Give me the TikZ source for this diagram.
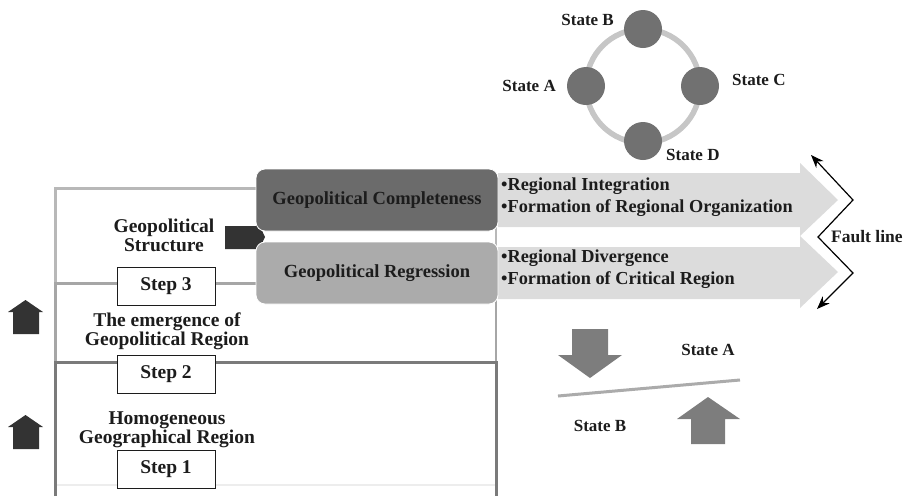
\documentclass[tikz,border=0pt]{standalone}
\usepackage{fontspec}
\setmainfont{Liberation Serif}
\usetikzlibrary{positioning,arrows.meta}
\tikzset{>=Stealth}

\definecolor{ink}{HTML}{1C1C1C}
\definecolor{boxdark}{HTML}{6B6B6B}
\definecolor{boxlight}{HTML}{ABABAB}
\definecolor{bandgray}{HTML}{DCDCDC}
\definecolor{stategray}{HTML}{717171}
\definecolor{ringgray}{HTML}{C6C6C6}
\definecolor{framelight}{HTML}{B8B8B8}
\definecolor{framemid}{HTML}{A6A6A6}
\definecolor{framedark}{HTML}{7A7A7A}
\definecolor{blockdark}{HTML}{333333}
\definecolor{blockgray}{HTML}{7D7D7D}

\tikzset{
  lbl/.style = {text=ink, font=\bfseries\fontsize{19.5}{19}\selectfont, align=center},
  stepbox/.style = {draw=ink, fill=white, line width=0.8pt, minimum width=98pt,
    minimum height=38pt, inner sep=0pt, text=ink, font=\bfseries\fontsize{19.5}{19}\selectfont},
  phasebox/.style = {draw=white, line width=0.8pt, rounded corners=9pt, minimum width=242pt,
    minimum height=62pt, inner sep=0pt, text=ink, font=\bfseries\fontsize{18.5}{20}\selectfont},
  bullets/.style = {anchor=west, inner sep=0pt, align=left, text=ink,
    font=\bfseries\fontsize{18.3}{22}\selectfont},
  state/.style = {circle, fill=stategray, minimum size=38pt, inner sep=0pt},
  statelbl/.style = {inner sep=0pt, text=ink, font=\bfseries\fontsize{17}{17}\selectfont},
  fault/.style = {{Stealth[length=13pt,width=10pt]}-{Stealth[length=13pt,width=10pt]},
    line width=1.2pt}
}

\begin{document}
\begin{tikzpicture}[x=1pt, y=-1pt]
    \useasboundingbox (0,0) rectangle (905,496);

    % frames of the three steps
    \draw[framelight, line width=3pt] (496,188) -- (55,188) -- (55,283);
    \draw[framelight, line width=2pt] (496,188) -- (496,283);
    \draw[framemid, line width=3pt] (496,283) -- (55,283) -- (55,496);
    \draw[framemid, line width=2.5pt] (496,283) -- (496,362);
    \draw[black!7, line width=2pt] (55,485) -- (496,485);
    \draw[framedark, line width=3pt] (55,496) -- (55,362) -- (496,362) -- (496,496);

    % steps
    \node[stepbox] (st3) at (166,286) {Step 3};
    \node[stepbox] (st2) at (166,374) {Step 2};
    \node[stepbox] (st1) at (166,469) {Step 1};
    \node[lbl] (gs) at (164,235) {Geopolitical\\Structure};
    \node[lbl] (ge) at (167,331) {The emergence of\\Geopolitical Region};
    \node[lbl] (hg) at (167,430) {Homogeneous\\Geographical Region};

    % upward arrows
    \foreach \y in {300,415}
      \fill[blockdark] (8,\y+12) -- (25.5,\y) -- (43,\y+12) -- (39,\y+12)
        -- (39,\y+34) -- (13,\y+34) -- (13,\y+12) -- cycle;

    % arrow into the two outcomes
    \fill[blockdark] (225,226) -- (256,226) -- (256,218) -- (265,237) -- (256,256)
      -- (256,249) -- (225,249) -- cycle;

    % bands
    \fill[bandgray] (498,173) -- (800,173) -- (800,163) -- (838,200) -- (800,236)
      -- (800,227) -- (498,227) -- cycle;
    \fill[bandgray] (498,247) -- (800,247) -- (800,236) -- (838,272) -- (800,308)
      -- (800,299) -- (498,299) -- cycle;
    \node[bullets] (bi) at (501,197) {\textbullet Regional Integration\\
      \textbullet Formation of Regional Organization};
    \node[bullets] (bd) at (501,269) {\textbullet Regional Divergence\\
      \textbullet Formation of Critical Region};

    \node[phasebox, fill=boxdark] (gc) at (377,200) {Geopolitical Completeness};
    \node[phasebox, fill=boxlight] (gr) at (377,273) {Geopolitical Regression};

    % fault line
    \coordinate (f0) at (811,155);
    \coordinate (f1) at (853,200);
    \coordinate (f2) at (818,237);
    \coordinate (f3) at (853,273);
    \coordinate (f4) at (817,309);
    \draw[fault] (f0) -- (f1) -- (f2) -- (f3) -- (f4);
    \node[statelbl, anchor=west, font=\bfseries\fontsize{17.5}{17}\selectfont] (fl) at (831,237) {Fault line};

    % states on a ring
    \coordinate (ring) at (643,86);
    \draw[ringgray, line width=5.5pt] (ring) circle[radius=57pt];
    \node[state] (sb) at (643,29) {};
    \node[state] (sa) at (586,86) {};
    \node[state] (sc) at (700,86) {};
    \node[state] (sd) at (643,141) {};
    \node[statelbl, anchor=east] at (614,20) {State B};
    \node[statelbl, anchor=east] at (556,86) {State A};
    \node[statelbl, anchor=west] at (732,80) {State C};
    \node[statelbl, anchor=west] at (666,155) {State D};

    % pressure on the fault
    \fill[blockgray] (572,329) -- (608,329) -- (608,355) -- (622,355) -- (590,378)
      -- (558,355) -- (572,355) -- cycle;
    \coordinate (la) at (558,396);
    \coordinate (lb) at (740,380);
    \draw[boxlight, line width=3pt] (la) -- (lb);
    \fill[blockgray] (691,444) -- (725,444) -- (725,419) -- (740,419) -- (708,397)
      -- (677,419) -- (691,419) -- cycle;
    \node[statelbl] (pa) at (708,350) {State A};
    \node[statelbl] (pb) at (600,426) {State B};
\end{tikzpicture}
\end{document}
